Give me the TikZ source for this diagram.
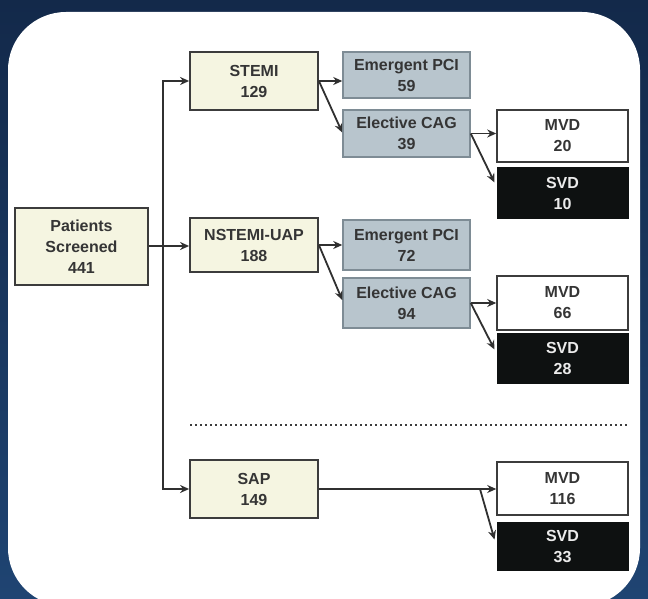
\documentclass[tikz,border=0pt]{standalone}
\usepackage{fontspec}
\setmainfont{Liberation Sans}
\usetikzlibrary{arrows.meta,calc}
\definecolor{navytop}{HTML}{13294A}
\definecolor{navybot}{HTML}{1F4472}
\definecolor{creamfill}{HTML}{F5F5E1}
\definecolor{grayfill}{HTML}{B8C5CD}
\definecolor{grayedge}{HTML}{7E8C95}
\definecolor{darkedge}{HTML}{3C3C3C}
\definecolor{txt}{HTML}{353535}
\definecolor{svdfill}{HTML}{0E1111}
\tikzset{
  base/.style={rectangle, align=center, inner sep=0pt, font=\fontsize{16}{21}\selectfont\bfseries, text=txt},
  cream/.style={base, fill=creamfill, draw=darkedge, line width=1.8pt},
  grayb/.style={base, fill=grayfill, draw=grayedge, line width=1.5pt},
  mvd/.style={base, fill=white, draw=darkedge, line width=1.6pt},
  svd/.style={base, fill=svdfill, draw=svdfill, line width=1pt, text=white!92!black},
  conn/.style={draw=darkedge!80!black, line width=1.8pt},
  arr/.style={conn, -{Stealth[length=9pt,width=8pt]}},
}
\begin{document}
\begin{tikzpicture}[x=1pt,y=-1pt]
\useasboundingbox (0,0) rectangle (648,599);
\shade[top color=navytop, bottom color=navybot] (0,0) rectangle (648,599);
\begin{scope}
\clip (0,0) rectangle (648,599);
\fill[white, rounded corners=58pt] (8,12) rectangle (640,606);
\end{scope}

\node[cream, minimum width=133pt, minimum height=77pt] (pat) at (81.5,246.5) {Patients\\Screened\\441};
\node[cream, minimum width=128pt, minimum height=58pt] (stemi) at (254,81) {STEMI\\129};
\node[grayb, minimum width=127pt, minimum height=46pt] (epci1) at (406.5,75) {Emergent PCI\\59};
\node[grayb, minimum width=127pt, minimum height=47pt] (ecag1) at (406.5,133.5) {Elective CAG\\39};
\node[mvd, minimum width=131pt, minimum height=52pt] (mvd1) at (562.5,136) {MVD\\20};
\node[svd, minimum width=131pt, minimum height=50pt] (svd1) at (562.5,193) {SVD\\10};

\node[cream, minimum width=128pt, minimum height=54pt] (nst) at (254,245) {NSTEMI-UAP\\188};
\node[grayb, minimum width=127pt, minimum height=50pt] (epci2) at (406.5,245) {Emergent PCI\\72};
\node[grayb, minimum width=127pt, minimum height=50pt] (ecag2) at (406.5,303) {Elective CAG\\94};
\node[mvd, minimum width=131pt, minimum height=54pt] (mvd2) at (562.5,303) {MVD\\66};
\node[svd, minimum width=131pt, minimum height=50pt] (svd2) at (562.5,358) {SVD\\28};

\node[cream, minimum width=128pt, minimum height=58pt] (sap) at (254,489) {SAP\\149};
\node[mvd, minimum width=131pt, minimum height=53pt] (mvd3) at (562.5,488.5) {MVD\\116};
\node[svd, minimum width=131pt, minimum height=48pt] (svd3) at (562.5,546) {SVD\\33};

% dotted separator
\coordinate (dotl) at (190,425);
\coordinate (dotr) at (628,425);
\draw[darkedge, line width=2.6pt, dash pattern=on 2pt off 3pt] (dotl) -- (dotr);

% trunk
\coordinate (jn) at (163,246);
\draw[arr] (pat.east |- jn) -- (nst.west |- jn);
\draw[arr] (jn) |- (stemi.west);
\draw[arr] (jn) |- (sap.west);

% STEMI branch
\draw[arr] (stemi.east) -- (stemi.east -| epci1.west);
\draw[arr] (stemi.east) -- ($(ecag1.west)+(0,-1)$);
\draw[arr] (ecag1.east) -- (ecag1.east -| mvd1.west);
\draw[arr] (ecag1.east) -- ($(svd1.north west)+(-2,15)$);

% NSTEMI branch
\draw[arr] (nst.east) -- (nst.east -| epci2.west);
\draw[arr] (nst.east) -- ($(ecag2.west)+(0,-3)$);
\draw[arr] (ecag2.east) -- (ecag2.east -| mvd2.west);
\draw[arr] (ecag2.east) -- ($(svd2.north west)+(-2,17)$);

% SAP branch
\coordinate (sapj) at (480,489);
\draw[arr] (sap.east) -- (sap.east -| mvd3.west);
\draw[arr] (sapj) -- ($(svd3.north west)+(-2,18)$);
\end{tikzpicture}
\end{document}
